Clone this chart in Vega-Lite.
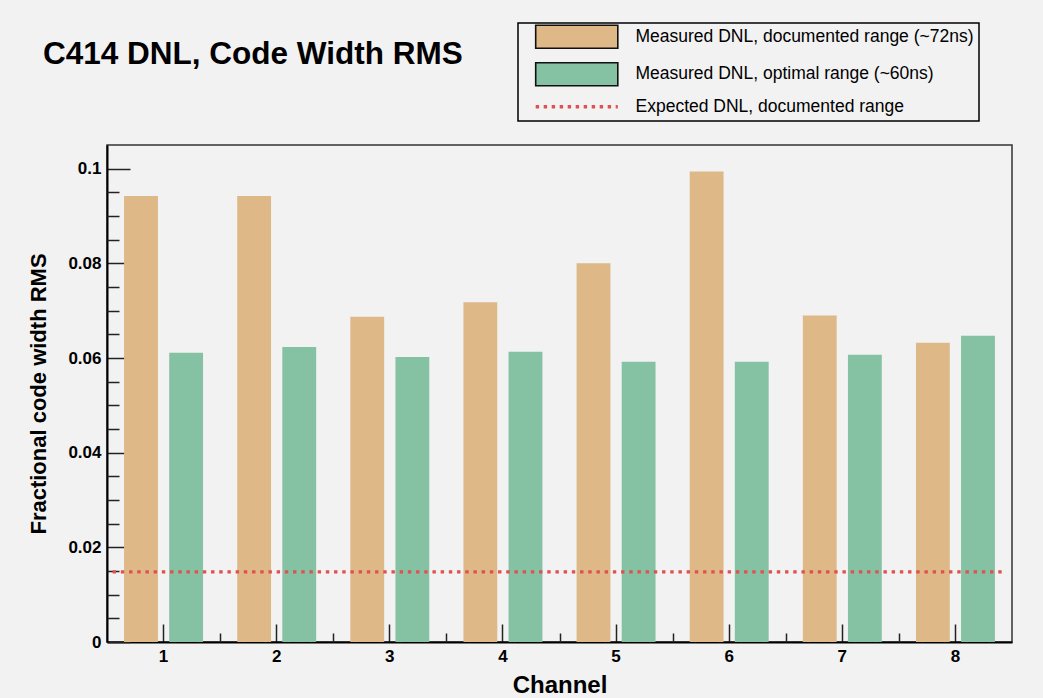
{
  "$schema": "https://vega.github.io/schema/vega-lite/v6.json",
  "autosize": {"type": "none"},
  "width": 905,
  "height": 497,
  "padding": {"left": 107, "top": 145, "right": 31, "bottom": 56},
  "background": "#f2f2f2",
  "config": {
    "font": "Liberation Sans",
    "view": {"stroke": "#333333", "strokeWidth": 1.5},
    "axis": {"grid": false, "domainColor": "#000000", "domainWidth": 2, "tickColor": "#222222", "tickWidth": 1.5, "labelFont": "Liberation Sans", "labelFontWeight": "bold", "labelFontSize": 17, "labelColor": "#000000", "titleFont": "Liberation Sans", "titleFontWeight": "bold", "titleColor": "#000000", "zindex": 1}
  },
  "title": {
    "text": "C414 DNL, Code Width RMS",
    "anchor": "start",
    "frame": "group",
    "font": "Liberation Sans",
    "fontSize": 31.5,
    "fontWeight": "bold",
    "color": "#000000",
    "baseline": "alphabetic",
    "dx": -64,
    "offset": 0,
    "dy": 73
  },
  "datasets": {
    "bars": [
      {"Channel": 1, "series": "Measured DNL, documented range (~72ns)", "value": 0.0942},
      {"Channel": 1, "series": "Measured DNL, optimal range (~60ns)", "value": 0.0611},
      {"Channel": 2, "series": "Measured DNL, documented range (~72ns)", "value": 0.0942},
      {"Channel": 2, "series": "Measured DNL, optimal range (~60ns)", "value": 0.0623},
      {"Channel": 3, "series": "Measured DNL, documented range (~72ns)", "value": 0.0687},
      {"Channel": 3, "series": "Measured DNL, optimal range (~60ns)", "value": 0.0602},
      {"Channel": 4, "series": "Measured DNL, documented range (~72ns)", "value": 0.0718},
      {"Channel": 4, "series": "Measured DNL, optimal range (~60ns)", "value": 0.0613},
      {"Channel": 5, "series": "Measured DNL, documented range (~72ns)", "value": 0.0800},
      {"Channel": 5, "series": "Measured DNL, optimal range (~60ns)", "value": 0.0592},
      {"Channel": 6, "series": "Measured DNL, documented range (~72ns)", "value": 0.0994},
      {"Channel": 6, "series": "Measured DNL, optimal range (~60ns)", "value": 0.0592},
      {"Channel": 7, "series": "Measured DNL, documented range (~72ns)", "value": 0.0690},
      {"Channel": 7, "series": "Measured DNL, optimal range (~60ns)", "value": 0.0607},
      {"Channel": 8, "series": "Measured DNL, documented range (~72ns)", "value": 0.0632},
      {"Channel": 8, "series": "Measured DNL, optimal range (~60ns)", "value": 0.0647}
    ],
    "expected": [
      {"series": "Expected DNL, documented range", "value": 0.0148}
    ]
  },
  "layer": [
    {
      "data": {"name": "bars"},
      "mark": {"type": "bar"},
      "encoding": {
        "x": {
          "field": "Channel", "type": "ordinal",
          "scale": {"paddingInner": 0.302, "paddingOuter": 0.151},
          "axis": {"orient": "bottom", "labelAngle": 0, "tickSize": -18, "labelPadding": 24, "title": "Channel", "titleFontSize": 24, "titleBaseline": "alphabetic", "titleY": 50, "domainColor": "#000000"}
        },
        "xOffset": {
          "field": "series", "type": "nominal",
          "sort": ["Measured DNL, documented range (~72ns)", "Measured DNL, optimal range (~60ns)"],
          "scale": {"paddingInner": 0.25, "paddingOuter": 0}
        },
        "y": {
          "field": "value", "type": "quantitative",
          "scale": {"domain": [0, 0.105], "nice": false, "zero": true},
          "axis": {"orient": "left", "values": [0, 0.02, 0.04, 0.06, 0.08, 0.1], "format": "~g", "tickSize": -23, "labelPadding": 29, "title": "Fractional code width RMS", "titleFontSize": 22, "titleBaseline": "alphabetic", "titleX": -62, "titleY": 248.5, "titleAngle": 270}
        },
        "color": {
          "field": "series", "type": "nominal",
          "scale": {
            "domain": ["Measured DNL, documented range (~72ns)", "Measured DNL, optimal range (~60ns)", "Expected DNL, documented range"],
            "range": ["#deb887", "#85c1a3", "#e0504f"]
          },
          "legend": {
            "title": null,
            "orient": "none",
            "legendX": 411,
            "legendY": -122,
            "direction": "vertical",
            "padding": 5,
            "strokeColor": "#000000",
            "fillColor": "#f2f2f2",
            "symbolType": "M-3.57,-1L3.57,-1L3.57,1L-3.57,1Z",
            "symbolSize": 529,
            "symbolOffset": 45,
            "symbolStrokeColor": "#000000",
            "symbolStrokeWidth": 1.5,
            "labelOffset": 50,
            "labelFont": "Liberation Sans",
            "labelFontSize": 17.5,
            "labelColor": "#000000",
            "labelLimit": 420,
            "rowPadding": 7.5,
            "encode": {
              "legend": {"update": {"strokeWidth": {"value": 1.5}}},
              "symbols": {
                "update": {
                  "shape": {"signal": "datum.value === 'Expected DNL, documented range' ? 'M-3.57,0L3.57,0' : 'M-3.57,-1L3.57,-1L3.57,1L-3.57,1Z'"},
                  "stroke": {"signal": "datum.value === 'Expected DNL, documented range' ? '#e0504f' : '#111111'"},
                  "fill": {"signal": "datum.value === 'Expected DNL, documented range' ? 'transparent' : scale('color', datum.value)"},
                  "strokeWidth": {"signal": "datum.value === 'Expected DNL, documented range' ? 3.3 : 1.6"},
                  "strokeDash": {"signal": "datum.value === 'Expected DNL, documented range' ? [3.4, 4.6] : null"},
                  "strokeOpacity": {"value": 1},
                  "opacity": {"value": 1}
                }
              }
            }
          }
        }
      }
    },
    {
      "data": {"name": "expected"},
      "mark": {"type": "rule", "strokeWidth": 3.3, "strokeDash": [3.4, 4.8], "color": "#e0504f"},
      "encoding": {
        "x": {
          "datum": 0.55, "type": "quantitative",
          "scale": {"domain": [0.5, 8.5], "nice": false, "zero": false},
          "axis": {"orient": "bottom", "values": [0.7, 0.9, 1.1, 1.3, 1.5, 1.7, 1.9, 2.1, 2.3, 2.5, 2.7, 2.9, 3.1, 3.3, 3.5, 3.7, 3.9, 4.1, 4.3, 4.5, 4.7, 4.9, 5.1, 5.3, 5.5, 5.7, 5.9, 6.1, 6.3, 6.5, 6.7, 6.9, 7.1, 7.3, 7.5, 7.7, 7.9, 8.1, 8.3], "labels": false, "domain": false, "tickSize": -9, "title": null}
        },
        "x2": {"datum": 8.43},
        "y": {
          "field": "value", "type": "quantitative",
          "axis": {"orient": "left", "values": [0.005, 0.01, 0.015, 0.025, 0.03, 0.035, 0.045, 0.05, 0.055, 0.065, 0.07, 0.075, 0.085, 0.09, 0.095], "labels": false, "domain": false, "tickSize": -12, "title": null}
        }
      }
    }
  ],
  "resolve": {"scale": {"x": "independent"}, "axis": {"x": "independent", "y": "independent"}}
}
